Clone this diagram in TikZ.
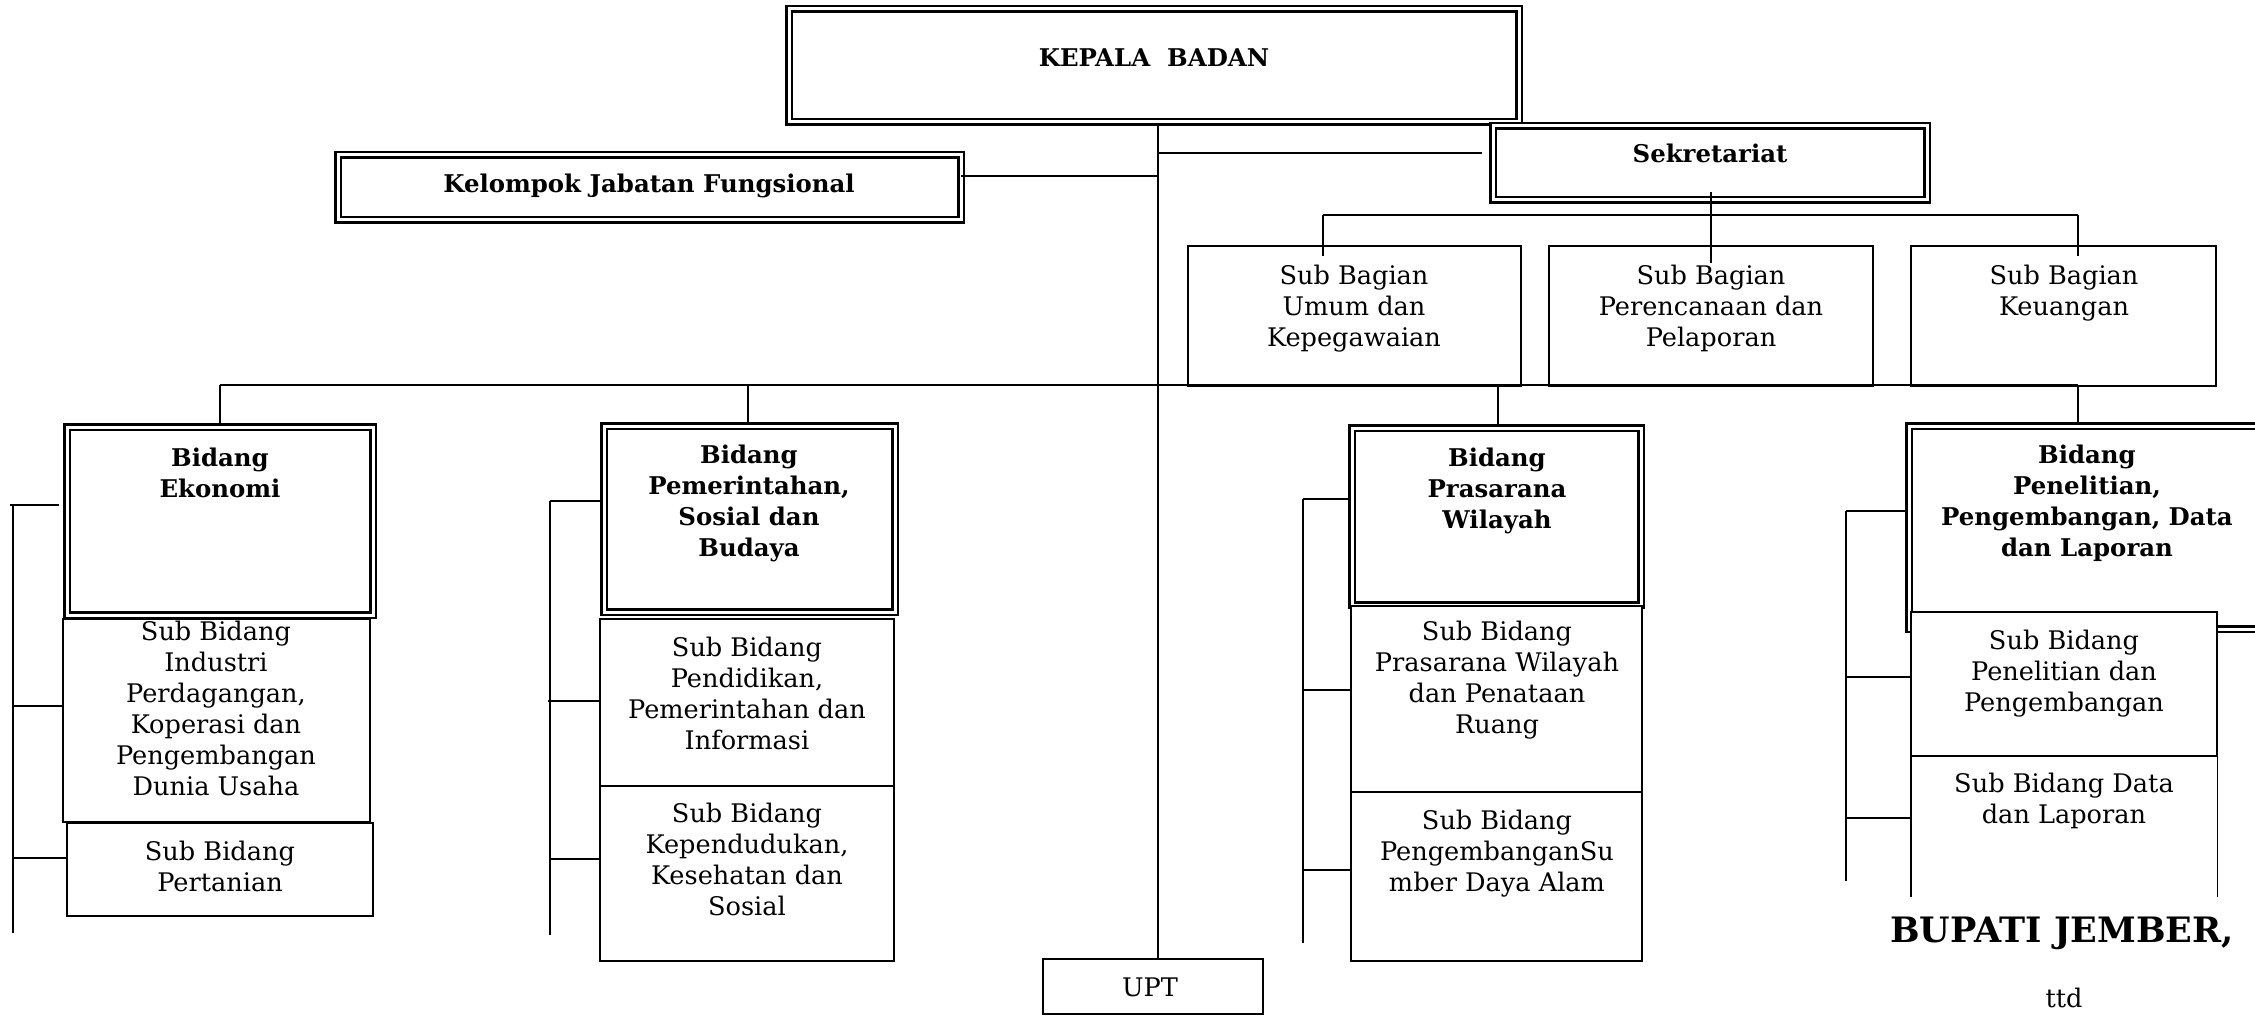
\documentclass[tikz,border=0pt]{standalone}
\usepackage{fontspec}
\setmainfont{DejaVu Serif}
\usetikzlibrary{fit}
\begin{document}
\begin{tikzpicture}[x=0.5pt,y=-0.5pt,
  dbox/.style={draw, double, line width=1.2pt, double distance=1.5pt, inner sep=0pt},
  sbox/.style={draw, fill=white, line width=0.9pt, inner sep=0pt},
  ghost/.style={inner sep=0pt},
  conn/.style={line width=0.8pt},
  busline/.style={line width=1.1pt},
  txt/.style={font=\fontsize{12.8}{15.5}\selectfont, align=center, inner sep=0pt},
  btxt/.style={font=\fontsize{12.2}{15.5}\selectfont\bfseries, align=center, inner sep=0pt},
  bigtxt/.style={font=\fontsize{17.5}{20}\selectfont\bfseries, inner sep=0pt}]
\useasboundingbox (0,0) rectangle (2255,1016);

% ---------- top level ----------
\node[dbox, fit={(789,9) (1519,122)}] (kepala) {};
\node[dbox, fit={(1493,126) (1927,200)}] (sekr) {};
\node[dbox, fit={(338,155) (961,220)}] (kjf) {};

\node[sbox, fit={(1188,246) (1521,386)}] (sb1) {};
\node[sbox, fit={(1549,246) (1873,386)}] (sb2) {};
\node[sbox, fit={(1911,246) (2216,386)}] (sb3) {};

% ---------- bidang ----------
\node[dbox, fit={(67,427) (373,615)}] (ekon) {};
\node[dbox, fit={(604,426) (895,612)}] (pem) {};
\node[dbox, fit={(1352,428) (1641,605)}] (pras) {};
\node[dbox, fit={(1909,426) (2265,629)}] (pen) {};

% ---------- sub bidang ----------
\node[sbox, fit={(63,619) (370,822)}] (sbind) {};
\node[sbox, fit={(67,823) (373,916)}] (sbpert) {};
\node[sbox, fit={(600,619) (894,786)}] (sbpend) {};
\node[sbox, fit={(600,786) (894,961)}] (sbkep) {};
\node[sbox, fit={(1351,606) (1642,792)}] (sbpw) {};
\node[sbox, fit={(1351,792) (1642,961)}] (sbsda) {};
\node[sbox, fit={(1911,612) (2217,756)}] (sbpp) {};
\node[ghost, fit={(1911,756) (2217,897)}] (sbdata) {};
\draw[line width=0.9pt] (sbdata.north west) -- (sbdata.south west);
\draw[line width=0.9pt] (sbdata.north east) -- (sbdata.south east);

\node[sbox, fit={(1043,959) (1263,1014)}] (upt) {};

% ---------- connectors ----------
\coordinate (tx) at (1158,0);
\draw[conn] (kepala.south -| tx) -- (upt.north -| tx);
\coordinate (kj) at (961,176);
\draw[conn] (kj) -- (kj -| tx);
\coordinate (sk) at (1482,153);
\draw[conn] (sk -| tx) -- (sk);
\coordinate (ss1) at (1711,192);
\coordinate (ss2) at (1711,263);
\draw[conn] (ss1) -- (ss2);
\coordinate (sbl) at (1323,215);
\coordinate (sbr) at (2078,215);
\draw[conn] (sbl) -- (sbr);
\draw[conn] (sbl) -- (sbl |- 0,256);
\draw[conn] (sbr) -- (sbr |- 0,256);

\coordinate (busL) at (220,385);
\coordinate (busR) at (2078,385);
\coordinate (busP) at (748,385);
\coordinate (busW) at (1498,385);
\draw[busline] (busL) -- (busR);
\draw[conn] (busL) -- (ekon.north);
\draw[conn] (busP) -- (busP |- pem.north);
\draw[conn] (busW) -- (busW |- pras.north);
\draw[conn] (busR) -- (busR |- pen.north);

% brackets
\draw[conn] (13,505) -- (13,933);
\draw[conn] (10,505) -- (59,505);
\draw[conn] (13,706) -- (sbind.west |- 0,706);
\draw[conn] (13,858) -- (sbpert.west |- 0,858);

\draw[conn] (550,501) -- (550,935);
\draw[conn] (550,501) -- (pem.west |- 0,501);
\draw[conn] (548,701) -- (sbpend.west |- 0,701);
\draw[conn] (550,859) -- (sbkep.west |- 0,859);

\draw[conn] (1303,499) -- (1303,943);
\draw[conn] (1303,499) -- (pras.west |- 0,499);
\draw[conn] (1303,690) -- (sbpw.west |- 0,690);
\draw[conn] (1303,870) -- (sbsda.west |- 0,870);

\draw[conn] (1846,511) -- (1846,881);
\draw[conn] (1846,511) -- (pen.west |- 0,511);
\draw[conn] (1846,677) -- (sbpp.west |- 0,677);
\draw[conn] (1846,818) -- (sbdata.west |- 0,818);

% ---------- texts ----------
\node[btxt] (t-kepala) at (1154,58) {KEPALA\ \ BADAN};
\node[btxt, anchor=base] (t-kjf) at (649,193) {Kelompok Jabatan Fungsional};
\node[btxt, anchor=base] (t-sekr) at (1710,163) {Sekretariat};

\node[txt, anchor=north] (t-umum) at (1354,265) {Sub Bagian\\ Umum dan\\Kepegawaian};
\node[txt, anchor=north] (t-renc) at (1711,265) {Sub Bagian\\Perencanaan dan\\Pelaporan};
\node[txt, anchor=north] (t-keu) at (2064,265) {Sub Bagian\\Keuangan};

\node[btxt, anchor=north] (t-ekon) at (220,448) {Bidang\\Ekonomi};
\node[btxt, anchor=north] (t-pem) at (749,445) {Bidang\\Pemerintahan,\\Sosial dan\\Budaya};
\node[btxt, anchor=north] (t-pras) at (1497,448) {Bidang\\Prasarana\\Wilayah};
\node[btxt, anchor=north] (t-pen) at (2087,445) {Bidang\\Penelitian,\\Pengembangan, Data\\dan Laporan};

\node[txt, anchor=north] (t-ind) at (216,621) {Sub Bidang\\Industri\\Perdagangan,\\Koperasi dan\\Pengembangan\\Dunia Usaha};
\node[txt, anchor=north] (t-pert) at (220,841) {Sub Bidang\\Pertanian};
\node[txt, anchor=north] (t-pend) at (747,637) {Sub Bidang\\Pendidikan,\\Pemerintahan dan\\Informasi};
\node[txt, anchor=north] (t-kep) at (747,803) {Sub Bidang\\Kependudukan,\\Kesehatan dan\\Sosial};
\node[txt, anchor=north] (t-pw) at (1497,621) {Sub Bidang\\Prasarana Wilayah\\dan Penataan\\Ruang};
\node[txt, anchor=north] (t-sda) at (1497,810) {Sub Bidang\\PengembanganSu\\mber Daya Alam};
\node[txt, anchor=north] (t-pp) at (2064,630) {Sub Bidang\\Penelitian dan\\Pengembangan};
\node[txt, anchor=north] (t-data) at (2064,773) {Sub Bidang Data\\dan Laporan};

\node[txt, anchor=base] (t-upt) at (1150,996) {UPT};
\node[bigtxt, anchor=base] (t-bup) at (2062,942) {BUPATI JEMBER,};
\node[txt, anchor=base] (t-ttd) at (2064,1007) {ttd};
\end{tikzpicture}
\end{document}
